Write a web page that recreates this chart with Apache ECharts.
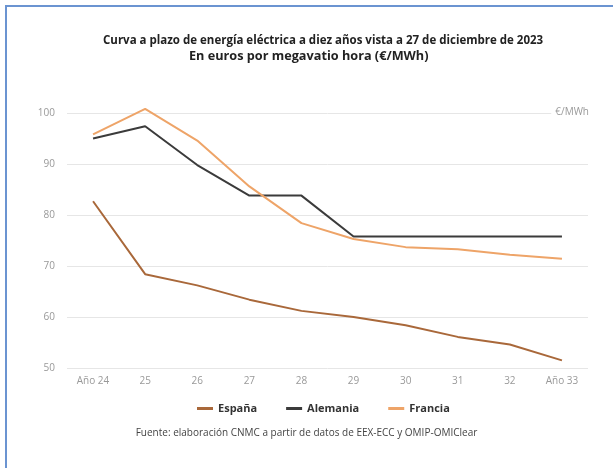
<!DOCTYPE html>
<html><head><meta charset="utf-8">
<script src="https://cdn.jsdelivr.net/npm/echarts@6/dist/echarts.min.js"></script>
<style>
html,body{margin:0;padding:0;background:#fff;overflow:hidden;width:613px;height:468px;}
#bl{position:absolute;left:5px;top:5px;width:2px;height:463px;background:#6b94d1;}
#bt{position:absolute;left:5px;top:5px;width:608px;height:2px;background:#6b94d1;}
#c{position:absolute;left:0;top:0;width:613px;height:468px;}
</style></head>
<body>
<div id="bl"></div>
<div id="bt"></div>
<div id="c"></div>
<script>
const categories = ['Año 24','25','26','27','28','29','30','31','32','Año 33'];
const espana = [82.7, 68.4, 66.2, 63.4, 61.2, 60.0, 58.4, 56.1, 54.6, 51.5];
const alemania = [95.0, 97.4, 89.8, 83.8, 83.8, 75.8, 75.8, 75.8, 75.8, 75.8];
const francia = [95.8, 100.8, 94.6, 85.6, 78.4, 75.3, 73.7, 73.3, 72.2, 71.4];
const yTicks = [50, 60, 70, 80, 90, 100];

const chart = echarts.init(document.getElementById('c'));
const font = 'Open Sans';
function line(name, data, color) {
  return {name, type:'line', data, symbol:'none', clip:false, lineStyle:{color, width:2}, itemStyle:{color}};
}
chart.setOption({
  backgroundColor:'transparent',
  animation:false,
  title:[{
    text:'Curva a plazo de energía eléctrica a diez años vista a 27 de diciembre de 2023',
    left:98, top:30,
    textStyle:{fontFamily:font, fontSize:11.5, fontWeight:'bold', color:'#222'}
  },{
    text:'En euros por megavatio hora (€/MWh)',
    left:184, top:45,
    textStyle:{fontFamily:font, fontSize:12.7, fontWeight:'bold', color:'#222'}
  },{
    text:'Fuente: elaboración CNMC a partir de datos de EEX-ECC y OMIP-OMIClear',
    left:'center', top:423,
    textStyle:{fontFamily:font, fontSize:10, fontWeight:'normal', color:'#444'}
  }],
  legend:{
    top:398, left:192, itemWidth:16, itemHeight:3, itemGap:29,
    icon:'rect',
    textStyle:{fontFamily:font, fontSize:11, fontWeight:'bold', color:'#333'},
    data:['España','Alemania','Francia']
  },
  grid:{left:67, right:25, top:113, bottom:100},
  xAxis:{
    type:'category', data:categories, boundaryGap:true,
    axisLine:{show:false}, axisTick:{show:false},
    axisLabel:{fontFamily:font, fontSize:10, color:'#999', margin:8}
  },
  yAxis:{
    type:'value', min:yTicks[0], max:yTicks[yTicks.length-1], interval:10,
    axisLine:{show:false}, axisTick:{show:false},
    axisLabel:{fontFamily:font, fontSize:10, color:'#999', margin:12},
    splitLine:{lineStyle:{color:'#e6e6e6', width:1}}
  },
  graphic:[{
    type:'text', right:24, top:107, z:100,
    style:{text:'€/MWh', fontFamily:font, fontSize:10, fill:'#999', backgroundColor:'#fff', padding:[0,0,0,4]}
  }],
  series:[
    line('España', espana, '#a9683a'),
    line('Alemania', alemania, '#3b3b3b'),
    line('Francia', francia, '#eea468')
  ]
});
</script>
</body></html>
